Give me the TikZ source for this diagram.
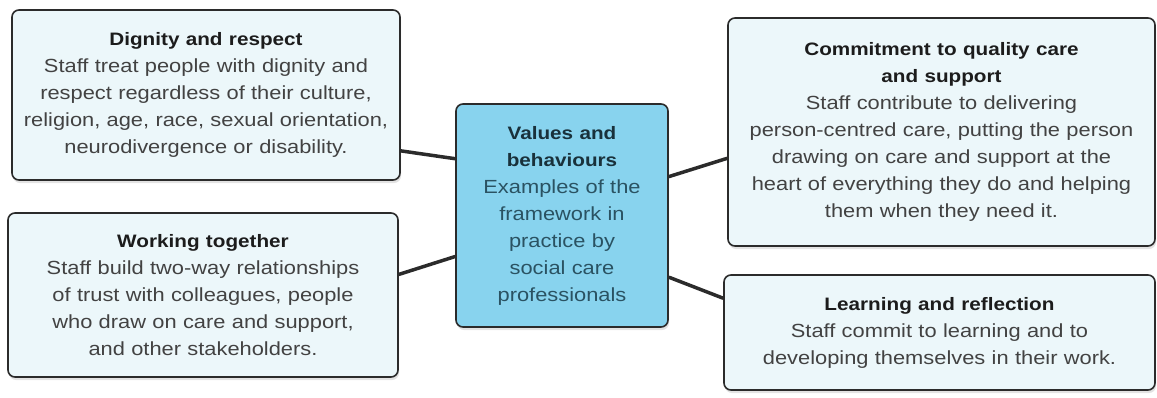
\documentclass[tikz,border=0pt]{standalone}
\usepackage{fontspec}
\setmainfont{Liberation Sans}[FakeStretch=1.15]
\usetikzlibrary{shadows}
\definecolor{edgegrey}{HTML}{2B2B2B}
\definecolor{palefill}{HTML}{ECF7FA}
\definecolor{skyfill}{HTML}{88D3EE}
\definecolor{bodygrey}{HTML}{424242}
\definecolor{titleink}{HTML}{1C1C1C}
\definecolor{deepteal}{HTML}{2A5262}

\tikzset{
  valuebox/.style={draw=edgegrey, line width=1.6pt, rounded corners=7pt,
    fill=palefill, align=center, text=bodygrey, inner sep=0pt,
    font=\fontsize{19}{27}\selectfont,
    drop shadow={opacity=0.22, shadow xshift=1pt, shadow yshift=-3pt}},
  hubbox/.style={valuebox, fill=skyfill, text=deepteal},
  link/.style={draw=edgegrey, line width=3.5pt},
}
\newcommand{\headline}[1]{{\fontsize{18}{27}\selectfont\bfseries\color{titleink}#1}}

\begin{document}
\begin{tikzpicture}[x=1pt, y=-1pt]
    \useasboundingbox (0,0) rectangle (1157,397);
    % Centre
    \node[hubbox, minimum width=212pt, minimum height=223pt, text width=200pt] (hub) at (562,215.5)
      {{\fontsize{18}{27}\selectfont\bfseries\color{deepteal!60!black}Values and\\behaviours}\\Examples of the\\framework in\\practice by\\social care\\professionals};
    % Left column
    \node[valuebox, minimum width=388pt, minimum height=170pt, text width=376pt] (dignity) at (206,95)
      {\headline{Dignity and respect}\\Staff treat people with dignity and\\respect regardless of their culture,\\religion, age, race, sexual orientation,\\neurodivergence or disability.};
    \node[valuebox, minimum width=390pt, minimum height=164pt, text width=378pt] (together) at (203,295)
      {\headline{Working together}\\Staff build two-way relationships\\of trust with colleagues, people\\who draw on care and support,\\and other stakeholders.};
    % Right column
    \node[valuebox, minimum width=427pt, minimum height=228pt, text width=415pt] (quality) at (941.5,132)
      {\headline{Commitment to quality care\\and support}\\Staff contribute to delivering\\person-centred care, putting the person\\drawing on care and support at the\\heart of everything they do and helping\\them when they need it.};
    \node[valuebox, minimum width=431pt, minimum height=115pt, text width=419pt] (learning) at (939.5,332.5)
      {\headline{Learning and reflection}\\Staff commit to learning and to\\developing themselves in their work.};
    % Links
    \draw[link] (dignity.-16) -- (hub.152.6);
    \draw[link] (together.6.7) -- (hub.-159.3);
    \draw[link] (hub.20.7) -- (quality.187.5);
    \draw[link] (hub.-30.7) -- (learning.171.9);
\end{tikzpicture}
\end{document}
